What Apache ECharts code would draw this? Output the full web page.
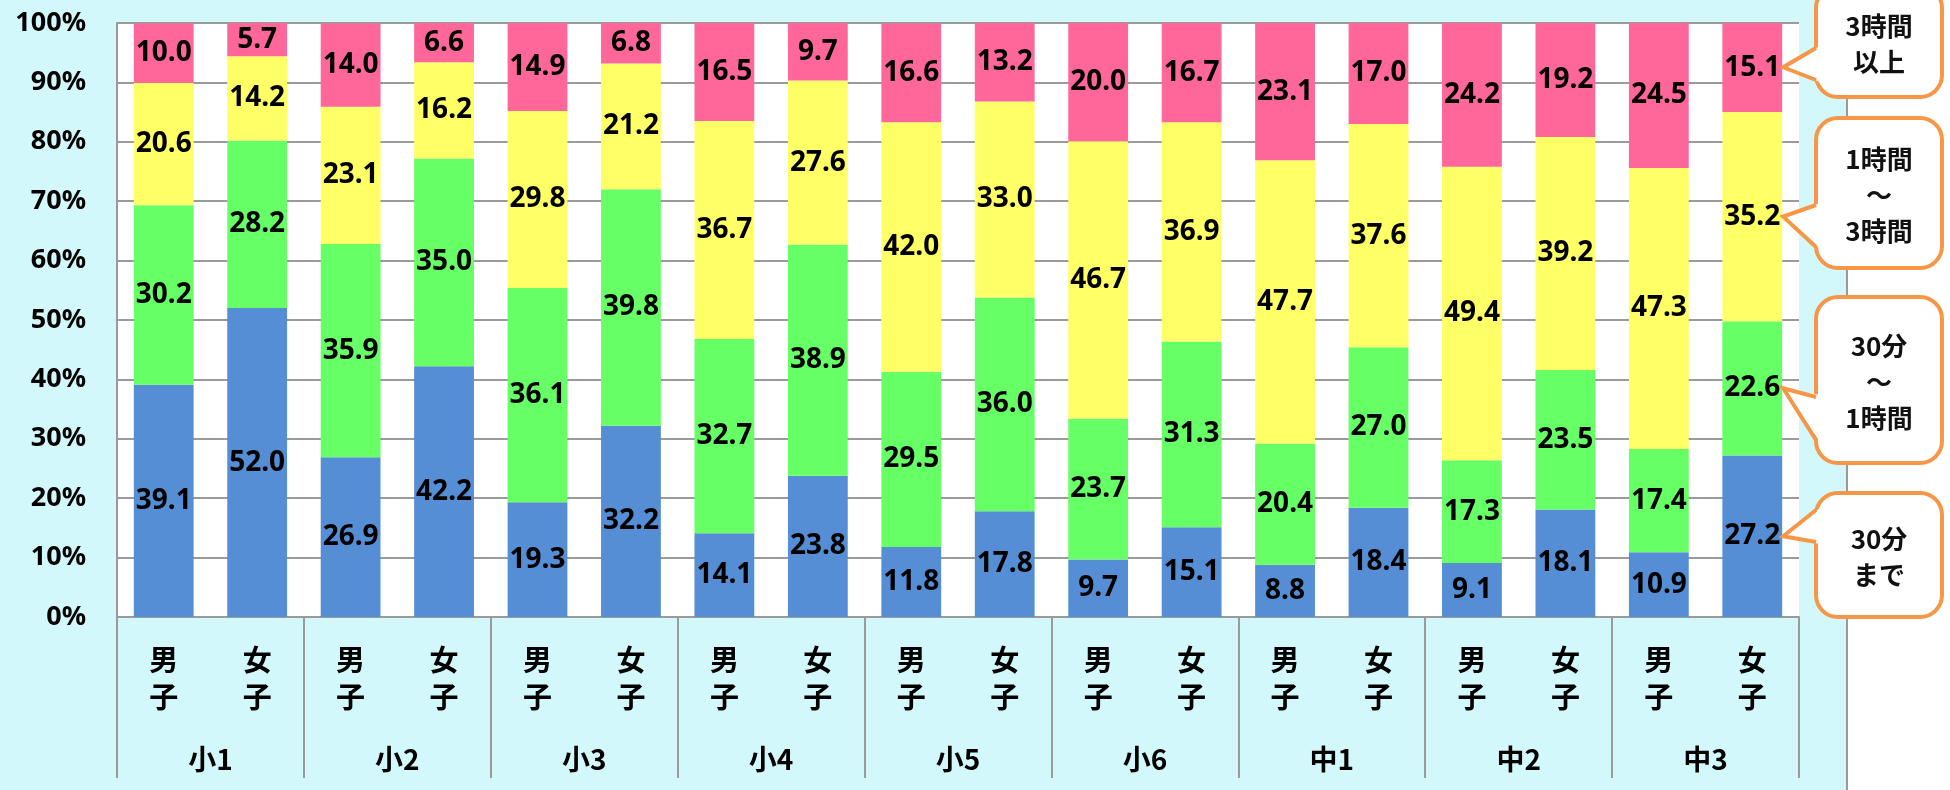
<!DOCTYPE html>
<html>
<head>
<meta charset="utf-8">
<script src="https://cdn.jsdelivr.net/npm/echarts@6/dist/echarts.min.js"></script>
<style>
  html, body { margin: 0; padding: 0; }
  body { background: linear-gradient(to right, #D2F8FC 0, #D2F8FC 1847px, #ffffff 1847px); }
  #c { width: 1950px; height: 790px; }
</style>
</head>
<body>
<div id="c"></div>
<script>
// ---- data ----
const groups = ['小1', '小2', '小3', '小4', '小5', '小6', '中1', '中2', '中3'];
const sexes = ['男子', '女子'];
const seriesNames = ['30分まで', '30分～1時間', '1時間～3時間', '3時間以上'];
const calloutTexts = ['30分\nまで', '30分\n～\n1時間', '1時間\n～\n3時間', '3時間\n以上'];
const yTicks = [0, 10, 20, 30, 40, 50, 60, 70, 80, 90, 100];

const upTo30 = [39.1, 52.0, 26.9, 42.2, 19.3, 32.2, 14.1, 23.8, 11.8, 17.8, 9.7, 15.1, 8.8, 18.4, 9.1, 18.1, 10.9, 27.2];
const from30to60 = [30.2, 28.2, 35.9, 35.0, 36.1, 39.8, 32.7, 38.9, 29.5, 36.0, 23.7, 31.3, 20.4, 27.0, 17.3, 23.5, 17.4, 22.6];
const from1to3h = [20.6, 14.2, 23.1, 16.2, 29.8, 21.2, 36.7, 27.6, 42.0, 33.0, 46.7, 36.9, 47.7, 37.6, 49.4, 39.2, 47.3, 35.2];
const over3h = [10.0, 5.7, 14.0, 6.6, 14.9, 6.8, 16.5, 9.7, 16.6, 13.2, 20.0, 16.7, 23.1, 17.0, 24.2, 19.2, 24.5, 15.1];

const seriesValues = [upTo30, from30to60, from1to3h, over3h];
const colors = ['#558ED5', '#66FF66', '#FFFF66', '#FF6699'];

// ---- build ----
const subCats = [];
groups.forEach(g => sexes.forEach(s => subCats.push(s.split('').join('\n'))));

const GRAY = '#9a9a9a';
const ORANGE = '#F79646';
const NUM_FONT = 'Noto Sans';
const CJK_FONT = 'Noto Sans CJK JP';

const chart = echarts.init(document.getElementById('c'), null, { renderer: 'canvas', width: 1950, height: 790 });

const option = {
  backgroundColor: 'transparent',
  animation: false,
  grid: {
    left: 117, right: 151, top: 23, bottom: 173,
    show: true, backgroundColor: '#ffffff', borderWidth: 0
  },
  xAxis: [
    {
      type: 'category',
      data: subCats,
      position: 'bottom',
      axisLine: { show: true, lineStyle: { color: GRAY, width: 2 } },
      axisTick: { show: false },
      axisLabel: {
        interval: 0, margin: 24, color: '#000',
        fontFamily: CJK_FONT, fontWeight: 'bold', fontSize: 29, lineHeight: 37
      }
    },
    {
      type: 'category',
      data: groups,
      position: 'bottom',
      axisLine: { show: false },
      axisTick: { show: true, interval: 0, length: 161, lineStyle: { color: GRAY, width: 2 } },
      axisLabel: {
        interval: 0, margin: 128, color: '#000',
        fontFamily: CJK_FONT, fontWeight: 'bold', fontSize: 28
      }
    }
  ],
  yAxis: {
    type: 'value',
    min: yTicks[0], max: yTicks[yTicks.length - 1], interval: 10,
    axisLine: { show: true, lineStyle: { color: GRAY, width: 2 } },
    axisTick: { show: false },
    splitLine: { show: true, lineStyle: { color: GRAY, width: 2 } },
    axisLabel: {
      formatter: '{value}%', margin: 31, color: '#000',
      fontFamily: NUM_FONT, fontWeight: 'bold', fontSize: 27
    }
  },
  series: seriesValues.map((vals, i) => ({
    name: seriesNames[i],
    type: 'bar',
    stack: 'total',
    xAxisIndex: 0,
    barCategoryGap: '36%',
    data: vals,
    itemStyle: { color: colors[i] },
    label: {
      show: true,
      position: 'inside',
      formatter: p => Number(p.value).toFixed(1),
      color: '#000',
      fontFamily: NUM_FONT,
      fontWeight: 'bold',
      fontSize: 28
    }
  }))
};

chart.setOption(option);

// ---- callouts anchored to the last bar's segments ----
const last = subCats.length - 1;
const xc = chart.convertToPixel({ gridIndex: 0 }, [last, 0])[0];
const xPrev = chart.convertToPixel({ gridIndex: 0 }, [last - 1, 0])[0];
const halfBar = (xc - xPrev) * 0.64 / 2;
const tipX = xc + halfBar + 1;

// box layout: [top, bottom, notchTop, notchBottom]
const boxes = [
  [493, 617, 510, 542],
  [297, 463, 397, 440],
  [118, 268, 205, 247],
  [-14, 97, 48, 80]
];
const L = 1816, R = 1942, r = 22;

const graphics = [
  { type: 'line', z: 10, shape: { x1: 1847, y1: 90, x2: 1847, y2: 790 }, style: { stroke: GRAY, lineWidth: 2 } }
];

let cum = 0;
seriesValues.forEach((vals, i) => {
  const v = vals[last];
  const mid = cum + v / 2;
  cum += v;
  const tipY = chart.convertToPixel({ gridIndex: 0 }, [last, mid])[1];
  const [T, B, n1, n2] = boxes[i];
  graphics.push({
    type: 'rect', z: 20,
    shape: { x: L, y: T, width: R - L, height: B - T, r: r },
    style: { fill: '#ffffff', stroke: ORANGE, lineWidth: 4 }
  });
  graphics.push({
    type: 'polygon', z: 21,
    shape: { points: [[L + 4, n1 - 2], [tipX, tipY], [L + 4, n2 + 2]] },
    style: { fill: '#ffffff', stroke: null }
  });
  graphics.push({
    type: 'polyline', z: 22,
    shape: { points: [[L, n1], [tipX, tipY], [L, n2]] },
    style: { stroke: ORANGE, lineWidth: 4, fill: null, lineJoin: 'miter' }
  });
  graphics.push({
    type: 'text', z: 23,
    style: {
      text: calloutTexts[i],
      x: (L + R) / 2, y: (Math.max(T, -12) + B) / 2 + 2,
      align: 'center', verticalAlign: 'middle',
      font: `bold 26px "${CJK_FONT}"`,
      lineHeight: 36,
      fill: '#111'
    }
  });
});

chart.setOption({ graphic: graphics });
</script>
</body>
</html>
